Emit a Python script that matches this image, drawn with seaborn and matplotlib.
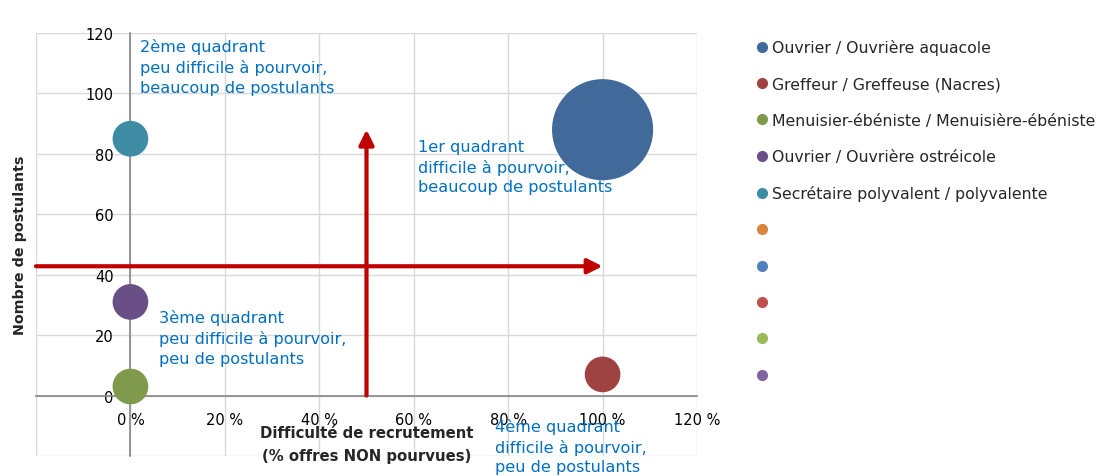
import matplotlib
matplotlib.use("Agg")
import matplotlib.pyplot as plt
from matplotlib.lines import Line2D
import seaborn as sns
import pandas as pd
import numpy as np

# ---- data ----
metiers = [
    "Ouvrier / Ouvrière aquacole",
    "Greffeur / Greffeuse (Nacres)",
    "Menuisier-ébéniste / Menuisière-ébéniste",
    "Ouvrier / Ouvrière ostréicole",
    "Secrétaire polyvalent / polyvalente",
]
difficulte = [1.0, 1.0, 0.0, 0.0, 0.0]
postulants = [88, 7, 3, 31, 85]
taille = [8, 1, 1, 1, 1]
couleurs = ["#41699A", "#9E4341", "#7F9A4A", "#6A4F87", "#3D8CA3"]
couleurs_vides = ["#DB843D", "#4F81BD", "#C0504D", "#9BBB59", "#8064A2"]

x_ticks = [-0.2, 0.0, 0.2, 0.4, 0.6, 0.8, 1.0, 1.2]
x_tick_labels = ["", "0 %", "20 %", "40 %", "60 %", "80 %", "100 %", "120 %"]
y_ticks = [-20, 0, 20, 40, 60, 80, 100, 120]
y_tick_labels = ["", "0", "20", "40", "60", "80", "100", "120"]

quadrants = [
    "1er quadrant\ndifficile à pourvoir,\nbeaucoup de postulants",
    "2ème quadrant\npeu difficile à pourvoir,\nbeaucoup de postulants",
    "3ème quadrant\npeu difficile à pourvoir,\npeu de postulants",
    "4ème quadrant\ndifficile à pourvoir,\npeu de postulants",
]

df = pd.DataFrame({"metier": metiers, "x": difficulte, "y": postulants, "taille": taille})

sns.set_theme(style="white")
plt.rcParams["font.family"] = ["DejaVu Sans"]

fig = plt.figure(figsize=(11.08, 4.77), dpi=100)
ax = fig.add_axes([36 / 1108, 1 - 457 / 477, (697 - 36) / 1108, (457 - 34) / 477])

sns.scatterplot(
    data=df, x="x", y="y", hue="metier", palette=couleurs, size="taille",
    sizes=(660, 5300), size_norm=(1, 8), linewidth=0, alpha=1, ax=ax,
    legend=False, zorder=5, clip_on=False,
)

ax.set_xlim(-0.2, 1.2)
ax.set_ylim(-20, 120)
ax.set_xticks(x_ticks)
ax.set_xticklabels(x_tick_labels)
ax.set_yticks(y_ticks)
ax.set_yticklabels(y_tick_labels)
ax.grid(True, color="#D9D9D9", linewidth=1)
ax.set_axisbelow(True)

for s in ["top", "right"]:
    ax.spines[s].set_visible(False)
ax.spines["left"].set_position(("data", 0))
ax.spines["bottom"].set_position(("data", 0))
for s in ["left", "bottom"]:
    ax.spines[s].set_color("#868686")
    ax.spines[s].set_linewidth(1.2)
    ax.spines[s].set_zorder(2)
ax.tick_params(axis="both", direction="out", length=5, width=1.2, color="#868686",
               labelsize=10.5, labelcolor="black")
ax.tick_params(axis="x", pad=7)
ax.tick_params(axis="y", pad=7)

ax.set_xlabel("")
ax.set_ylabel("")

# axis titles
ax.text(0.5, -9.9, "Difficulté de recrutement\n(% offres NON pourvues)", ha="center", va="top",
        fontsize=10.7, fontweight="bold", linespacing=1.6)
fig.text(20 / 1108, 1 - 245 / 477, "Nombre de postulants", rotation=90, ha="center", va="center",
         fontsize=10.3, fontweight="bold")

# quadrant separator arrows (derived from data)
x_mid = (min(difficulte) + max(difficulte)) / 2
y_mean = float(np.mean(postulants))
red = "#C00000"
ax.annotate("", xy=(x_mid, max(postulants)), xytext=(x_mid, 0),
            arrowprops=dict(arrowstyle="-|>", color=red, lw=3, mutation_scale=22, shrinkA=0, shrinkB=0),
            zorder=3)
ax.annotate("", xy=(max(difficulte), y_mean), xytext=(-0.2, y_mean),
            arrowprops=dict(arrowstyle="-|>", color=red, lw=3, mutation_scale=22, shrinkA=0, shrinkB=0),
            zorder=3)

# quadrant texts
blue = "#0070C0"
kw = dict(color=blue, fontsize=11.6, ha="left", va="top", linespacing=1.38, zorder=4, clip_on=False)
ax.text(0.61, 85.0, quadrants[0], **kw)
ax.text(0.02, 118.2, quadrants[1], **kw)
ax.text(0.06, 28.6, quadrants[2], **kw)
ax.text(0.772, -7.4, quadrants[3], **kw)

# legend
handles = [Line2D([], [], marker="o", linestyle="", color=c, markersize=7) for c in couleurs + couleurs_vides]
labels = metiers + [""] * len(couleurs_vides)
fig.legend(handles, labels, loc="upper left", bbox_to_anchor=(757 / 1108, 1 - 40 / 477),
           frameon=False, fontsize=11.3, handlelength=0.6, handletextpad=0.35,
           labelspacing=1.36, borderpad=0, borderaxespad=0)

fig.savefig("out.png", dpi=100)
